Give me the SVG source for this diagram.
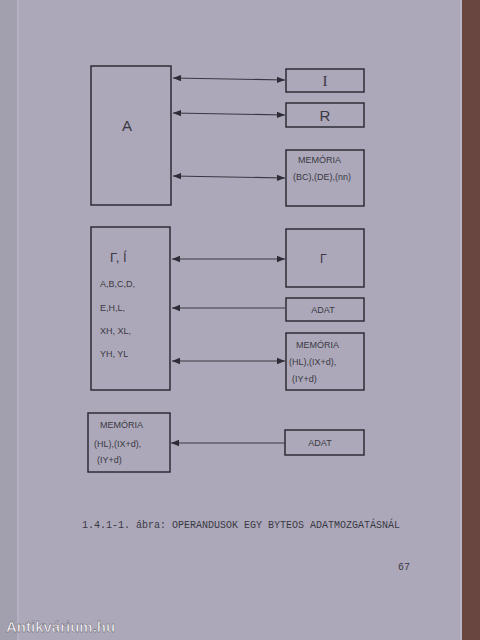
<svg xmlns="http://www.w3.org/2000/svg" width="480" height="640" viewBox="0 0 480 640">
<defs>
<style>
.box{fill:none;stroke:#2e2c36;stroke-width:1.5}
.ln{fill:none;stroke:#3a3842;stroke-width:1.2}
.t{font-family:"Liberation Sans","DejaVu Sans",sans-serif;fill:#3a3842}
.big{font-size:15px}
.sm{font-size:9px}
.cap{font-family:"Liberation Mono","DejaVu Sans Mono",monospace;font-size:10px;fill:#3a3842}
</style>
<marker id="ah" viewBox="0 0 10 10" refX="10" refY="5" markerWidth="10" markerHeight="8" markerUnits="userSpaceOnUse" orient="auto-start-reverse">
<path d="M0,1 L10,5 L0,9 z" fill="#2e2c36"/>
</marker>
</defs>
<rect width="480" height="640" fill="#aca8ba"/>
<rect x="0" y="0" width="17" height="640" fill="#a29fae"/>
<line x1="18" y1="0" x2="18" y2="640" stroke="#b6b3c2" stroke-width="1.5"/>
<rect x="462" y="0" width="18" height="640" fill="#6a4640"/>
<line x1="461" y1="0" x2="461" y2="640" stroke="#bdb9c8" stroke-width="1.5"/>

<g id="connectors">
<line class="ln" x1="173" y1="78" x2="285" y2="80" marker-start="url(#ah)" marker-end="url(#ah)"/>
<line class="ln" x1="173" y1="113" x2="285" y2="115" marker-start="url(#ah)" marker-end="url(#ah)"/>
<line class="ln" x1="173" y1="176" x2="285" y2="178" marker-start="url(#ah)" marker-end="url(#ah)"/>
<line class="ln" x1="172" y1="259" x2="285" y2="259" marker-start="url(#ah)" marker-end="url(#ah)"/>
<line class="ln" x1="172" y1="308" x2="285" y2="308" marker-start="url(#ah)"/>
<line class="ln" x1="172" y1="361" x2="285" y2="361" marker-start="url(#ah)" marker-end="url(#ah)"/>
<line class="ln" x1="171" y1="443" x2="285" y2="443" marker-start="url(#ah)"/>
</g>

<g id="nodeA">
<rect class="box" x="91" y="66" width="80" height="139"/>
<text class="t big" x="127" y="131" text-anchor="middle">A</text>
</g>
<g id="nodeI">
<rect class="box" x="286" y="69" width="78" height="23"/>
<text x="325" y="86" text-anchor="middle" font-family="'Liberation Serif','DejaVu Serif',serif" font-size="15" fill="#3a3842">I</text>
</g>
<g id="nodeR">
<rect class="box" x="286" y="103" width="78" height="24"/>
<text class="t big" x="325" y="121" text-anchor="middle">R</text>
</g>
<g id="nodeMem1">
<rect class="box" x="286" y="150" width="78" height="56"/>
<text class="t sm" x="298" y="163">MEMÓRIA</text>
<text class="t sm" x="293" y="180">(BC),(DE),(nn)</text>
</g>

<g id="nodeRegs">
<rect class="box" x="91" y="227" width="79" height="163"/>
<text class="t" font-size="13" x="110" y="262">Γ, Í</text>
<text class="t sm" x="100" y="287">A,B,C,D,</text>
<text class="t sm" x="100" y="311">E,H,L,</text>
<text class="t sm" x="100" y="334">XH, XL,</text>
<text class="t sm" x="100" y="357">YH, YL</text>
</g>
<g id="nodeGamma">
<rect class="box" x="286" y="229" width="78" height="58"/>
<text class="t" font-size="12" x="320" y="263">Γ</text>
</g>
<g id="nodeAdat1">
<rect class="box" x="286" y="298" width="78" height="23"/>
<text class="t sm" x="323" y="313" text-anchor="middle">ADAT</text>
</g>
<g id="nodeMem2">
<rect class="box" x="286" y="333" width="78" height="57"/>
<text class="t sm" x="296" y="348">MEMÓRIA</text>
<text class="t sm" x="289" y="365">(HL),(IX+d),</text>
<text class="t sm" x="292" y="382">(IY+d)</text>
</g>

<g id="nodeMem3">
<rect class="box" x="88" y="413" width="82" height="59"/>
<text class="t sm" x="100" y="428">MEMÓRIA</text>
<text class="t sm" x="94" y="447">(HL),(IX+d),</text>
<text class="t sm" x="97" y="463">(IY+d)</text>
</g>
<g id="nodeAdat2">
<rect class="box" x="285" y="430" width="79" height="25"/>
<text class="t sm" x="320" y="446" text-anchor="middle">ADAT</text>
</g>

<text class="cap" x="82" y="528">1.4.1-1. ábra: OPERANDUSOK EGY BYTEOS ADATMOZGATÁSNÁL</text>
<text class="cap" x="398" y="570" font-size="9">67</text>
<text x="6" y="632" font-family="'Liberation Sans','DejaVu Sans',sans-serif" font-weight="bold" font-size="15" fill="#f2f0f4" stroke="#55505a" stroke-width="0.4">Antikvárium.hu</text>
</svg>
